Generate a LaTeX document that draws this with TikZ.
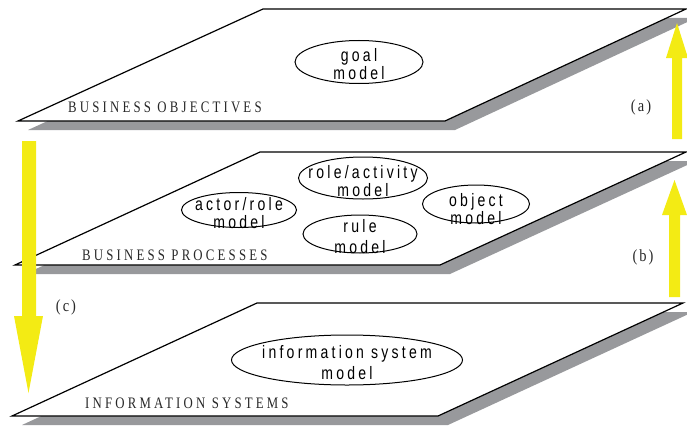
\documentclass[tikz,border=0pt]{standalone}
\usepackage{fontspec}
\usetikzlibrary{shapes.geometric}
\newfontfamily\lblfont[LetterSpace=20,FakeStretch=0.8]{Liberation Serif}
\newfontfamily\letfont[LetterSpace=12,FakeStretch=0.85]{Liberation Serif}
\newfontfamily\elfont[LetterSpace=18,FakeStretch=0.78]{Liberation Sans}
\definecolor{shadowgray}{RGB}{152,153,156}
\definecolor{arrowyellow}{RGB}{243,235,20}
\definecolor{lblgray}{RGB}{40,40,40}
\tikzset{
  plane/.style={draw=black, fill=white, line width=1.2pt, line join=miter},
  planeshadow/.style={fill=shadowgray, draw=none},
  bigarrow/.style={fill=arrowyellow, draw=none},
  modelell/.style={ellipse, draw=black, line width=1pt, inner sep=0pt},
  modeltext/.style={align=center, inner sep=0pt, font=\elfont\fontsize{18}{18}\selectfont},
  planelabel/.style={anchor=west, inner sep=0pt, text=lblgray, font=\lblfont\fontsize{16}{16}\selectfont},
  letterlabel/.style={inner sep=0pt, text=lblgray, font=\letfont\fontsize{17}{17}\selectfont}
}
\begin{document}
\begin{tikzpicture}[x=1pt,y=-1pt]
\useasboundingbox (0,0) rectangle (687,428);
% top plane
\fill[planeshadow] (28,130) -- (455,130) -- (696,18) -- (273,18) -- cycle;
\draw[plane] (18,121) -- (445,121) -- (686,9) -- (263,9) -- cycle;
% middle plane
\fill[planeshadow] (25,274) -- (450,274) -- (696,161) -- (270,161) -- cycle;
\draw[plane] (15,265) -- (440,265) -- (686,152) -- (260,152) -- cycle;
% bottom plane
\fill[planeshadow] (22,425) -- (448,425) -- (693,312) -- (267,312) -- cycle;
\draw[plane] (12,416) -- (438,416) -- (683,303) -- (257,303) -- cycle;
% plane labels
\node[planelabel] (lobj) at (68,107) {BUSINESS OBJECTIVES};
\node[planelabel] (lproc) at (82,255) {BUSINESS PROCESSES};
\node[planelabel] (lis) at (85,403) {INFORMATION SYSTEMS};
% letter labels
\node[letterlabel] (la) at (641,107) {(a)};
\node[letterlabel] (lb) at (643,257) {(b)};
\node[letterlabel] (lc) at (66,307) {(c)};
% yellow arrows
\fill[bigarrow] (672,139) -- (682,139) -- (682,58) -- (688,58) -- (677,23) -- (666,58) -- (672,58) -- cycle;
\fill[bigarrow] (669,297) -- (680,297) -- (680,215) -- (687,215) -- (674.5,180) -- (662,215) -- (669,215) -- cycle;
\fill[bigarrow] (22,141) -- (36,141) -- (36,316) -- (43,316) -- (28.5,393) -- (14,316) -- (22,316) -- cycle;
% model ellipses
\node[modelell, minimum width=128pt, minimum height=43pt] (goal) at (359,62) {};
\node[modeltext] (goalt) at (359,64) {goal\\model};
\node[modelell, minimum width=129pt, minimum height=42pt] (roleact) at (363,178) {};
\node[modeltext] (roleactt) at (363,181) {role/activity\\model};
\node[modelell, minimum width=115pt, minimum height=35pt] (actor) at (239,210) {};
\node[modeltext] (actort) at (239,213) {actor/role\\model};
\node[modelell, minimum width=114pt, minimum height=38pt] (rule) at (360,234) {};
\node[modeltext, font=\elfont\fontsize{18}{21}\selectfont] (rulet) at (360,237) {rule\\model};
\node[modelell, minimum width=107pt, minimum height=38pt] (object) at (476,204) {};
\node[modeltext] (objectt) at (476,209) {object\\model};
\node[modelell, minimum width=231pt, minimum height=50pt] (infsys) at (347,360) {};
\node[modeltext, font=\elfont\fontsize{18}{21}\selectfont] (infsyst) at (347,363) {information system\\model};
\end{tikzpicture}
\end{document}
